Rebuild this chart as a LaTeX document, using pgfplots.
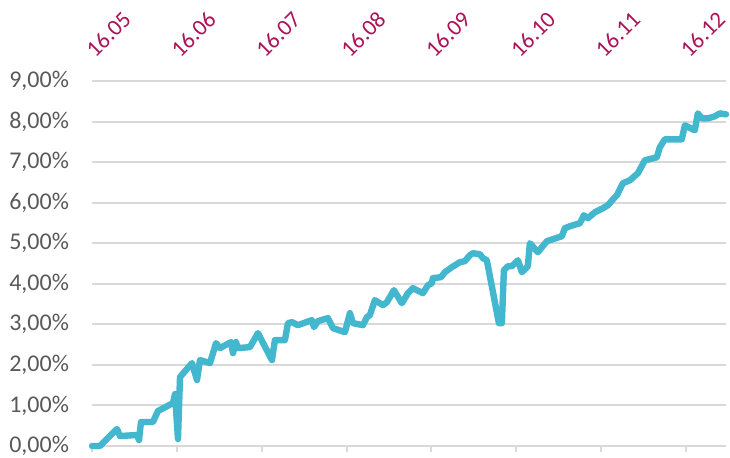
\documentclass[border=0pt]{standalone}
\usepackage{fontspec}
\setmainfont{Carlito}
\usepackage{graphicx}
\usepackage{pgfplots}
\pgfplotsset{compat=1.18}
\definecolor{linec}{RGB}{66,183,206}
\definecolor{labc}{RGB}{172,18,88}
\definecolor{gridc}{RGB}{217,217,217}
\definecolor{txtc}{RGB}{89,89,89}
\newcommand{\rl}[1]{\rotatebox{45}{#1}}
\begin{document}
\begin{tikzpicture}
\begin{axis}[
  scale only axis, width=317pt, height=182.5pt,
  xmin=0, xmax=7.47, ymin=0, ymax=9,
  xtick={0,1,2,3,4,5,6,7},
  xticklabels={\rl{16.05},\rl{16.06},\rl{16.07},\rl{16.08},\rl{16.09},\rl{16.10},\rl{16.11},\rl{16.12}},
  xtick pos=bottom, xticklabel pos=top,
  tick align=outside, major tick length=3pt,
  xtick style={draw=gridc, line width=1pt},
  ytick={0,1,2,3,4,5,6,7,8,9},
  yticklabels={{0,00\%},{1,00\%},{2,00\%},{3,00\%},{4,00\%},{5,00\%},{6,00\%},{7,00\%},{8,00\%},{9,00\%}},
  ytick style={draw=none},
  ymajorgrids, grid style={draw=gridc, line width=1pt},
  axis line style={draw=none},
  xticklabel style={anchor=south west, inner sep=0pt, xshift=-4pt, yshift=8pt, text=labc, font=\fontsize{11.5}{13}\selectfont},
  yticklabel style={text=txtc, font=\fontsize{12}{14}\selectfont, xshift=-5pt},
  clip=false,
]
\addplot[linec, line width=3.2pt, line join=round, line cap=round] coordinates {
(0,0) (0.094,0) (0.294,0.419) (0.330,0.246) (0.530,0.271) (0.554,0.148) (0.577,0.591)
(0.718,0.591) (0.777,0.862) (0.954,1.059) (0.978,1.281) (1.013,0.172) (1.037,1.700)
(1.178,2.044) (1.237,1.626) (1.272,2.118) (1.390,2.044) (1.461,2.537) (1.508,2.414)
(1.637,2.562) (1.661,2.291) (1.696,2.562) (1.720,2.414) (1.861,2.438) (1.955,2.783)
(2.120,2.118) (2.155,2.611) (2.273,2.611) (2.309,3.030) (2.356,3.054) (2.426,2.980)
(2.591,3.103) (2.615,2.931) (2.662,3.079) (2.780,3.153) (2.839,2.906) (2.980,2.808)
(3.039,3.276) (3.074,3.030) (3.192,2.980) (3.239,3.177) (3.274,3.227) (3.333,3.596)
(3.428,3.473) (3.475,3.547) (3.557,3.842) (3.651,3.522) (3.687,3.645) (3.722,3.768)
(3.781,3.892) (3.899,3.768) (3.958,3.966) (4.005,4.015) (4.016,4.138) (4.111,4.163)
(4.158,4.286) (4.240,4.409) (4.334,4.532) (4.393,4.557) (4.452,4.704) (4.488,4.754)
(4.570,4.729) (4.605,4.631) (4.652,4.581) (4.794,3.030) (4.829,3.030) (4.853,4.335)
(4.900,4.433) (4.947,4.433) (5.018,4.581) (5.065,4.286) (5.135,4.433) (5.159,5.000)
(5.253,4.778) (5.359,5.049) (5.430,5.099) (5.536,5.172) (5.571,5.369) (5.630,5.419)
(5.748,5.493) (5.795,5.690) (5.842,5.616) (5.925,5.764) (6.019,5.862) (6.078,5.936)
(6.160,6.133) (6.184,6.182) (6.255,6.478) (6.337,6.552) (6.431,6.724) (6.514,7.044)
(6.655,7.118) (6.690,7.365) (6.749,7.562) (6.949,7.562) (6.985,7.906) (7.102,7.783)
(7.138,8.202) (7.185,8.079) (7.256,8.079) (7.338,8.128) (7.397,8.202) (7.470,8.177)
};
\end{axis}
\pgfresetboundingbox
\path[use as bounding box] ([shift={(-46pt,-6pt)}]current axis.south west) rectangle ([shift={(2pt,40.5pt)}]current axis.north east);
\end{tikzpicture}
\end{document}
